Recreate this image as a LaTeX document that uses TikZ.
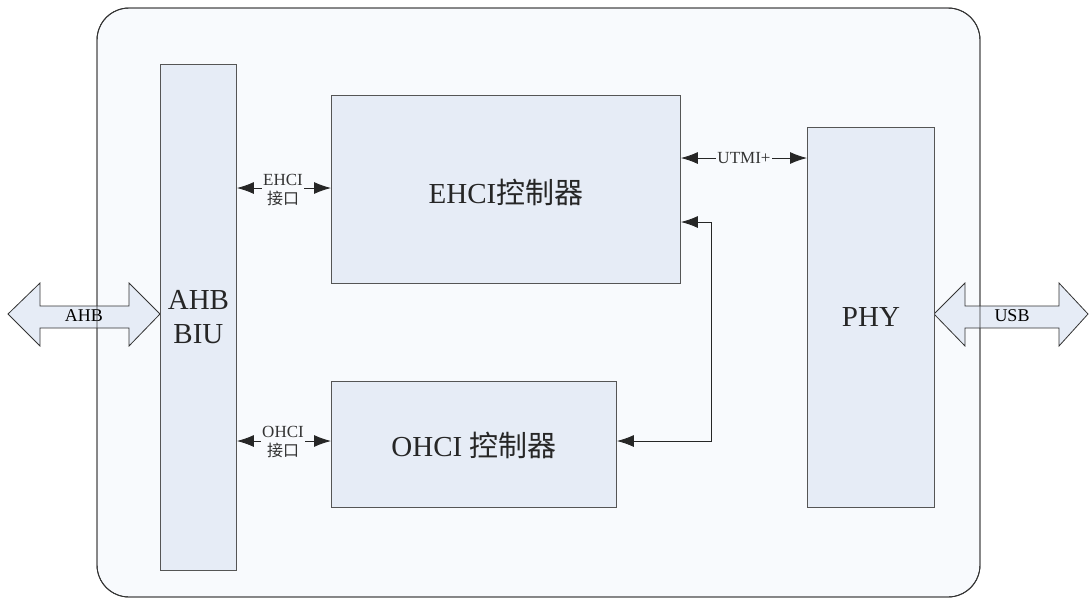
\documentclass[tikz,border=0pt]{standalone}
\usepackage{fontspec}
\setmainfont{Liberation Serif}
\newfontfamily\cjk{Noto Sans CJK SC}
\usetikzlibrary{arrows.meta}
\definecolor{bgc}{HTML}{F8FAFD}
\definecolor{boxc}{HTML}{E6ECF6}
\definecolor{linec}{HTML}{555555}
\tikzset{
  blk/.style={draw=linec, fill=boxc, line width=0.9pt},
  conn/.style={draw=linec, line width=0.9pt, {Latex[length=17pt,width=12pt]}-{Latex[length=17pt,width=12pt]}, color=black!85},
  lbl/.style={fill=bgc, inner sep=1pt, font=\fontsize{17}{19}\selectfont, align=center, text=black!80},
  bigtxt/.style={font=\fontsize{29}{34}\selectfont, text=black!85},
  fat/.style={draw=black!80, fill=boxc, line width=0.8pt}
}
\begin{document}
\begin{tikzpicture}[x=1pt,y=-1pt]
\useasboundingbox (0,0) rectangle (1090,600);
% outer container
\draw[draw=black!80, fill=bgc, line width=0.9pt, rounded corners=32pt] (97,8) rectangle (980,597);
% AHB fat arrow
\draw[fat] (8,314) -- (40,283) -- (40,306) -- (129,306) -- (129,283) -- (160,314) -- (129,346) -- (129,328) -- (40,328) -- (40,346) -- cycle;
\node[font=\fontsize{18}{20}\selectfont] (ahb) at (84,316) {AHB};
% USB fat arrow
\draw[fat] (934,314) -- (965,283) -- (965,306) -- (1059,306) -- (1059,283) -- (1088,314) -- (1059,346) -- (1059,328) -- (965,328) -- (965,346) -- cycle;
\node[font=\fontsize{18}{20}\selectfont] (usb) at (1012,316) {USB};
% outer border on top of arrows
\draw[draw=black!80, line width=0.9pt, rounded corners=32pt] (97,8) rectangle (980,597);
% blocks
\node[blk, minimum width=76pt, minimum height=506pt, anchor=north west] (biu) at (160,64) {};
\node[bigtxt, align=center] at (biu.center) {AHB\\BIU};
\node[blk, minimum width=349pt, minimum height=188pt, anchor=north west] (ehci) at (331,95) {};
\node[bigtxt] at ([yshift=-3pt]ehci.center) {EHCI{\cjk 控制器}};
\node[blk, minimum width=285pt, minimum height=126pt, anchor=north west] (ohci) at (331,381) {};
\node[bigtxt] at ([yshift=-1pt]ohci.center) {OHCI {\cjk 控制器}};
\node[blk, minimum width=127pt, minimum height=380pt, anchor=north west] (phy) at (807,127) {};
\node[bigtxt] at (phy.center) {PHY};
% connectors
\draw[conn] (biu.east |- 0,188) -- (ehci.west |- 0,188);
\node[lbl] (l1) at (283,190) {EHCI\\{\cjk\fontsize{16}{19}\selectfont 接口}};
\draw[conn] (biu.east |- 0,441) -- (ohci.west |- 0,441);
\node[lbl] (l2) at (283,442) {OHCI\\{\cjk\fontsize{16}{19}\selectfont 接口}};
\draw[conn] (ehci.east |- 0,158) -- (phy.west |- 0,158);
\node[lbl] (l3) at (744,158) {UTMI+};
\coordinate (c1) at (711,441);
\coordinate (c2) at (711,222);
\draw[conn] (ohci.east |- c1) -- (c1) -- (c2) -- (ehci.east |- c2);
\end{tikzpicture}
\end{document}
